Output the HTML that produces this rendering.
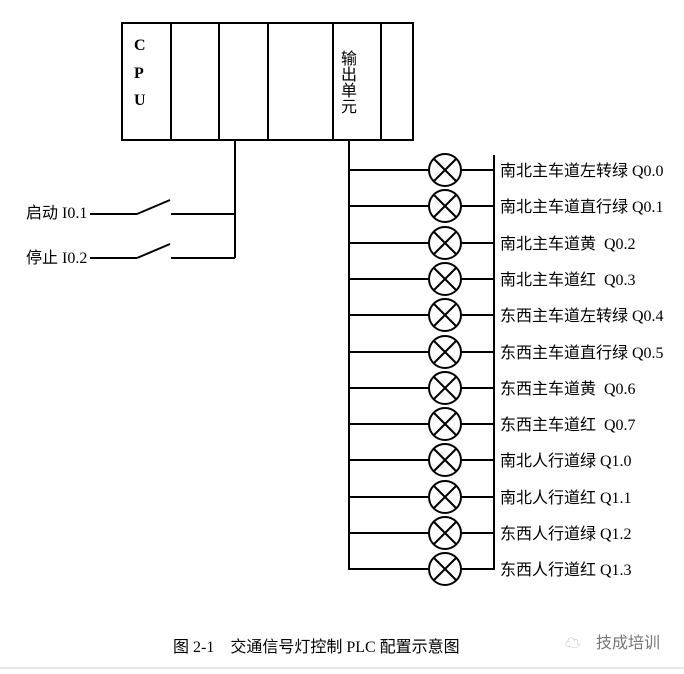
<!DOCTYPE html>
<html><head><meta charset="utf-8"><style>
body{margin:0;background:#fff;width:684px;height:669px;overflow:hidden}
text{font-family:"Liberation Serif","Noto Sans CJK SC",serif;fill:#000}
</style></head><body>
<svg width="684" height="669" xmlns="http://www.w3.org/2000/svg">
<g stroke="#000" stroke-width="2" fill="none">
<rect x="122" y="23" width="291" height="117"/>
<line x1="171" y1="23" x2="171" y2="140"/>
<line x1="219" y1="23" x2="219" y2="140"/>
<line x1="268" y1="23" x2="268" y2="140"/>
<line x1="333" y1="23" x2="333" y2="140"/>
<line x1="381" y1="23" x2="381" y2="140"/>
<line x1="235" y1="140" x2="235" y2="258"/>
<line x1="90" y1="214" x2="137" y2="214"/>
<line x1="137" y1="214" x2="170" y2="200"/>
<line x1="171" y1="214" x2="235" y2="214"/>
<line x1="90" y1="258" x2="137" y2="258"/>
<line x1="137" y1="258" x2="170" y2="244"/>
<line x1="171" y1="258" x2="235" y2="258"/>
<line x1="349" y1="140" x2="349" y2="570"/>
<line x1="494" y1="155" x2="494" y2="570"/>
</g>
<g stroke="#000" stroke-width="2" fill="none" id="lamps"></g>
<g font-size="16">
<text x="134" y="50" font-weight="bold">C</text><text x="134" y="78" font-weight="bold">P</text><text x="134" y="105" font-weight="bold">U</text>
<text x="26" y="218">启动 I0.1</text>
<text x="26" y="263">停止 I0.2</text>
</g>
<g font-size="16">
<text x="341" y="64" font-family="'Noto Sans CJK SC',sans-serif">输</text>
<text x="341" y="80" font-family="'Noto Sans CJK SC',sans-serif">出</text>
<text x="341" y="96" font-family="'Noto Sans CJK SC',sans-serif">单</text>
<text x="341" y="112" font-family="'Noto Sans CJK SC',sans-serif">元</text>
</g>
<g font-size="16" id="labels"></g>
<text x="173" y="652" font-size="16">图 2-1　交通信号灯控制 PLC 配置示意图</text>
<text x="596" y="648" font-size="16" style="fill:#777">技成培训</text>
<text x="565" y="648" font-size="15" style="fill:#aaa">☁</text>
<line x1="0" y1="668" x2="684" y2="668" stroke="#ccc" stroke-width="1"/>
</svg>
<script>
var L=["南北主车道左转绿 Q0.0","南北主车道直行绿 Q0.1","南北主车道黄  Q0.2","南北主车道红  Q0.3","东西主车道左转绿 Q0.4","东西主车道直行绿 Q0.5","东西主车道黄  Q0.6","东西主车道红  Q0.7","南北人行道绿 Q1.0","南北人行道红 Q1.1","东西人行道绿 Q1.2","东西人行道红 Q1.3"];
var g=document.getElementById("lamps"),t=document.getElementById("labels"),s="",h="";
for(var i=0;i<12;i++){var y=Math.round(170+36.3*i);
s+='<line x1="349" y1="'+y+'" x2="429" y2="'+y+'"/><line x1="461" y1="'+y+'" x2="494" y2="'+y+'"/><circle cx="445" cy="'+y+'" r="16"/><line x1="434" y1="'+(y-11)+'" x2="456" y2="'+(y+11)+'"/><line x1="456" y1="'+(y-11)+'" x2="434" y2="'+(y+11)+'"/>';
h+='<text x="500" y="'+(y+6)+'" xml:space="preserve">'+L[i]+'</text>';}
g.innerHTML=s;t.innerHTML=h;
</script>
</body></html>
